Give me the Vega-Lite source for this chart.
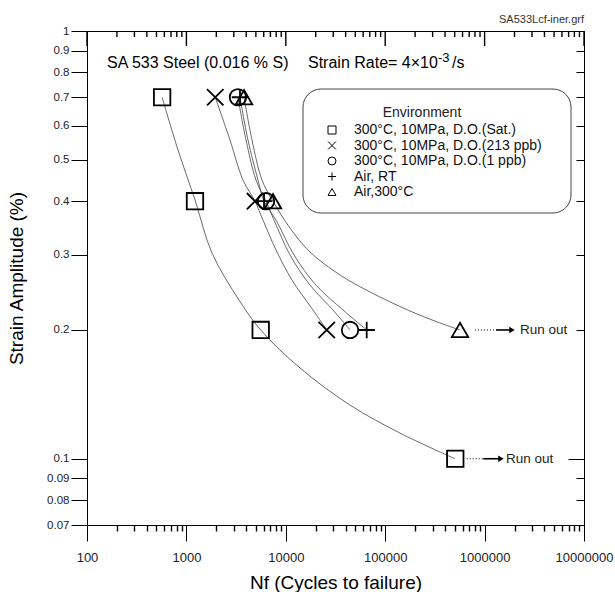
{
  "$schema": "https://vega.github.io/schema/vega-lite/v6.json",
  "width": 497,
  "height": 494,
  "autosize": "none",
  "padding": {"left": 87, "top": 31, "right": 31, "bottom": 67},
  "title": {"text": "SA533Lcf-iner.grf", "anchor": "end", "frame": "group", "fontSize": 11, "fontWeight": "normal", "color": "#333", "font": "Liberation Sans", "offset": 0},
  "config": {"view": {"stroke": null}, "font": "Liberation Sans", "axis": {"tickColor": "black", "domainColor": "black", "grid": false, "tickWidth": 1, "domainWidth": 1}},
  "datasets": {
    "points": [
      {"series": "300°C, 10MPa, D.O.(Sat.)", "N": 570, "strain": 0.7},
      {"series": "300°C, 10MPa, D.O.(Sat.)", "N": 1220, "strain": 0.4},
      {"series": "300°C, 10MPa, D.O.(Sat.)", "N": 5590, "strain": 0.2},
      {"series": "300°C, 10MPa, D.O.(Sat.)", "N": 507000, "strain": 0.1},
      {"series": "300°C, 10MPa, D.O.(213  ppb)", "N": 1950, "strain": 0.7},
      {"series": "300°C, 10MPa, D.O.(213  ppb)", "N": 4900, "strain": 0.4},
      {"series": "300°C, 10MPa, D.O.(213  ppb)", "N": 25800, "strain": 0.2},
      {"series": "300°C, 10MPa, D.O.(1 ppb)", "N": 3300, "strain": 0.7},
      {"series": "300°C, 10MPa, D.O.(1 ppb)", "N": 6320, "strain": 0.4},
      {"series": "300°C, 10MPa, D.O.(1 ppb)", "N": 44300, "strain": 0.2},
      {"series": "Air, RT", "N": 3460, "strain": 0.7},
      {"series": "Air, RT", "N": 6040, "strain": 0.4},
      {"series": "Air, RT", "N": 65150, "strain": 0.2},
      {"series": "Air,300°C", "N": 3800, "strain": 0.7},
      {"series": "Air,300°C", "N": 7430, "strain": 0.4},
      {"series": "Air,300°C", "N": 566000, "strain": 0.2}
    ],
    "curves": [
      {"series": "s1", "N": 570, "strain": 0.7},
      {"series": "s1", "N": 823, "strain": 0.527},
      {"series": "s1", "N": 1221, "strain": 0.4026},
      {"series": "s1", "N": 1809, "strain": 0.3027},
      {"series": "s1", "N": 3382, "strain": 0.235},
      {"series": "s1", "N": 5591, "strain": 0.2},
      {"series": "s1", "N": 13900, "strain": 0.163},
      {"series": "s1", "N": 44250, "strain": 0.1335},
      {"series": "s1", "N": 141000, "strain": 0.1148},
      {"series": "s1", "N": 504000, "strain": 0.1},
      {"series": "s2", "N": 1950, "strain": 0.7},
      {"series": "s2", "N": 2745, "strain": 0.556},
      {"series": "s2", "N": 3710, "strain": 0.4483},
      {"series": "s2", "N": 4900, "strain": 0.4},
      {"series": "s2", "N": 5897, "strain": 0.3614},
      {"series": "s2", "N": 7970, "strain": 0.3076},
      {"series": "s2", "N": 11540, "strain": 0.2617},
      {"series": "s2", "N": 18770, "strain": 0.2227},
      {"series": "s2", "N": 25800, "strain": 0.2},
      {"series": "s3", "N": 3300, "strain": 0.7},
      {"series": "s3", "N": 3979, "strain": 0.556},
      {"series": "s3", "N": 5015, "strain": 0.4483},
      {"series": "s3", "N": 6320, "strain": 0.4},
      {"series": "s3", "N": 7607, "strain": 0.3614},
      {"series": "s3", "N": 11020, "strain": 0.2995},
      {"series": "s3", "N": 17520, "strain": 0.2547},
      {"series": "s3", "N": 29840, "strain": 0.2227},
      {"series": "s3", "N": 44300, "strain": 0.2},
      {"series": "s4", "N": 3460, "strain": 0.7},
      {"series": "s4", "N": 4167, "strain": 0.556},
      {"series": "s4", "N": 5252, "strain": 0.4483},
      {"series": "s4", "N": 6040, "strain": 0.4},
      {"series": "s4", "N": 7970, "strain": 0.3614},
      {"series": "s4", "N": 12090, "strain": 0.2995},
      {"series": "s4", "N": 20120, "strain": 0.2547},
      {"series": "s4", "N": 37630, "strain": 0.2227},
      {"series": "s4", "N": 65150, "strain": 0.2},
      {"series": "s5", "N": 3800, "strain": 0.7},
      {"series": "s5", "N": 4571, "strain": 0.556},
      {"series": "s5", "N": 5763, "strain": 0.4483},
      {"series": "s5", "N": 7430, "strain": 0.4},
      {"series": "s5", "N": 11020, "strain": 0.3462},
      {"series": "s5", "N": 17520, "strain": 0.3043},
      {"series": "s5", "N": 35110, "strain": 0.2689},
      {"series": "s5", "N": 70330, "strain": 0.2454},
      {"series": "s5", "N": 177600, "strain": 0.2215},
      {"series": "s5", "N": 355900, "strain": 0.2077},
      {"series": "s5", "N": 566000, "strain": 0.2}
    ],
    "xmajor": [
      {"v": 100}, {"v": 1000}, {"v": 10000}, {"v": 100000}, {"v": 1000000}, {"v": 10000000}
    ],
    "xminor": [
      {"v": 200}, {"v": 300}, {"v": 400}, {"v": 500}, {"v": 600}, {"v": 700}, {"v": 800}, {"v": 900},
      {"v": 2000}, {"v": 3000}, {"v": 4000}, {"v": 5000}, {"v": 6000}, {"v": 7000}, {"v": 8000}, {"v": 9000},
      {"v": 20000}, {"v": 30000}, {"v": 40000}, {"v": 50000}, {"v": 60000}, {"v": 70000}, {"v": 80000}, {"v": 90000},
      {"v": 200000}, {"v": 300000}, {"v": 400000}, {"v": 500000}, {"v": 600000}, {"v": 700000}, {"v": 800000}, {"v": 900000},
      {"v": 2000000}, {"v": 3000000}, {"v": 4000000}, {"v": 5000000}, {"v": 6000000}, {"v": 7000000}, {"v": 8000000}, {"v": 9000000}
    ],
    "dotted": [
      {"N": 800000, "N2": 1302000, "strain": 0.2},
      {"N": 661000, "N2": 970000, "strain": 0.1}
    ],
    "arrows": [
      {"N": 1302000, "N2": 1887000, "strain": 0.2},
      {"N": 970000, "N2": 1462000, "strain": 0.1}
    ],
    "runtext": [
      {"N": 2270000, "strain": 0.2, "label": "Run out"},
      {"N": 1642000, "strain": 0.1, "label": "Run out"}
    ],
    "box": [
      {"x1": 14890, "x2": 7400000, "y1": 0.7317, "y2": 0.3754}
    ],
    "texts": [
      {"N": 159, "strain": 0.8415, "label": "SA 533 Steel (0.016 % S)"},
      {"N": 16720, "strain": 0.8415, "label": "Strain Rate= 4×10"},
      {"N": 469900, "strain": 0.8415, "label": "/s"}
    ],
    "sup": [
      {"N": 339800, "strain": 0.863, "label": "-3"}
    ],
    "env": [
      {"N": 234500, "strain": 0.643, "label": "Environment"}
    ]
  },
  "resolve": {"axis": {"x": "independent", "y": "independent"}},
  "layer": [
    {
      "data": {"name": "curves"},
      "mark": {"type": "line", "interpolate": "catmull-rom", "stroke": "#444", "strokeWidth": 0.8},
      "encoding": {
        "x": {"field": "N", "type": "quantitative", "scale": {"type": "log", "domain": [100, 10000000], "nice": false}, "axis": null},
        "y": {"field": "strain", "type": "quantitative", "scale": {"type": "log", "domain": [0.07, 1], "nice": false}, "axis": null},
        "detail": {"field": "series", "type": "nominal"}
      }
    },
    {
      "data": {"name": "xminor"},
      "mark": {"type": "tick", "orient": "vertical", "color": "black", "thickness": 1.4, "size": 6, "yOffset": 3, "opacity": 1},
      "encoding": {
        "x": {"field": "v", "type": "quantitative", "axis": null},
        "y": {"value": 0}
      }
    },
    {
      "data": {"name": "xmajor"},
      "mark": {"type": "tick", "orient": "vertical", "color": "black", "thickness": 1.4, "size": 15, "yOffset": 7.5, "opacity": 1},
      "encoding": {
        "x": {"field": "v", "type": "quantitative", "axis": null},
        "y": {"value": 0}
      }
    },
    {
      "data": {"name": "box"},
      "mark": {"type": "rect", "fill": null, "stroke": "#444", "strokeWidth": 1, "cornerRadius": 18},
      "encoding": {
        "x": {"field": "x1", "type": "quantitative", "axis": null},
        "x2": {"field": "x2"},
        "y": {"field": "y1", "type": "quantitative", "axis": null},
        "y2": {"field": "y2"}
      }
    },
    {
      "data": {"name": "dotted"},
      "mark": {"type": "rule", "stroke": "black", "strokeWidth": 1, "strokeDash": [1, 2]},
      "encoding": {
        "x": {"field": "N", "type": "quantitative", "axis": null},
        "x2": {"field": "N2"},
        "y": {"field": "strain", "type": "quantitative", "axis": null}
      }
    },
    {
      "data": {"name": "arrows"},
      "mark": {"type": "rule", "stroke": "black", "strokeWidth": 1.6},
      "encoding": {
        "x": {"field": "N", "type": "quantitative", "axis": null},
        "x2": {"field": "N2"},
        "y": {"field": "strain", "type": "quantitative", "axis": null}
      }
    },
    {
      "data": {"name": "arrows"},
      "mark": {"type": "point", "shape": "triangle-right", "filled": true, "fill": "black", "stroke": null, "size": 40, "opacity": 1},
      "encoding": {
        "x": {"field": "N2", "type": "quantitative", "axis": null},
        "y": {"field": "strain", "type": "quantitative", "axis": null}
      }
    },
    {
      "data": {"name": "runtext"},
      "mark": {"type": "text", "align": "left", "baseline": "middle", "fontSize": 13.5, "font": "Liberation Sans", "fill": "#222"},
      "encoding": {
        "x": {"field": "N", "type": "quantitative", "axis": null},
        "y": {"field": "strain", "type": "quantitative", "axis": null},
        "text": {"field": "label"}
      }
    },
    {
      "data": {"name": "texts"},
      "mark": {"type": "text", "align": "left", "baseline": "middle", "fontSize": 16, "font": "Liberation Sans", "fill": "black"},
      "encoding": {
        "x": {"field": "N", "type": "quantitative", "axis": null},
        "y": {"field": "strain", "type": "quantitative", "axis": null},
        "text": {"field": "label"}
      }
    },
    {
      "data": {"name": "sup"},
      "mark": {"type": "text", "align": "left", "baseline": "middle", "fontSize": 13, "font": "Liberation Sans", "fill": "black"},
      "encoding": {
        "x": {"field": "N", "type": "quantitative", "axis": null},
        "y": {"field": "strain", "type": "quantitative", "axis": null},
        "text": {"field": "label"}
      }
    },
    {
      "data": {"name": "env"},
      "mark": {"type": "text", "align": "center", "baseline": "middle", "fontSize": 14, "font": "Liberation Sans", "fill": "#222"},
      "encoding": {
        "x": {"field": "N", "type": "quantitative", "axis": null},
        "y": {"field": "strain", "type": "quantitative", "axis": null},
        "text": {"field": "label"}
      }
    },
    {
      "data": {"name": "points"},
      "mark": {"type": "point", "filled": false, "stroke": "black", "strokeWidth": 1.8, "size": 270, "opacity": 1},
      "encoding": {
        "x": {
          "field": "N", "type": "quantitative",
          "axis": {
            "orient": "bottom",
            "values": [100, 1000, 10000, 100000, 1000000, 10000000],
            "format": "d",
            "tickSize": 16,
            "labelPadding": 10,
            "labelFontSize": 13,
            "labelColor": "#222",
            "labelFont": "Liberation Sans",
            "labelOverlap": false,
            "labelFlush": false,
            "title": "Nf (Cycles to failure)",
            "titleFontSize": 19,
            "titleFont": "Liberation Sans",
            "titleFontWeight": "normal",
            "titleColor": "black",
            "titlePadding": 9
          }
        },
        "y": {
          "field": "strain", "type": "quantitative",
          "axis": {
            "orient": "left",
            "values": [0.07,0.08,0.09,0.1,0.2,0.3,0.4,0.5,0.6,0.7,0.8,0.9,1],
            "format": "~g",
            "tickSize": 16,
            "labelPadding": 2,
            "labelFontSize": 11.5,
            "labelColor": "#222",
            "labelFont": "Liberation Sans",
            "labelOverlap": false,
            "labelFlush": false,
            "title": "Strain Amplitude (%)",
            "titleFontSize": 19,
            "titleFont": "Liberation Sans",
            "titleFontWeight": "normal",
            "titleColor": "black",
            "titlePadding": 20
          }
        },
        "shape": {
          "field": "series", "type": "nominal",
          "scale": {
            "domain": ["300°C, 10MPa, D.O.(Sat.)", "300°C, 10MPa, D.O.(213  ppb)", "300°C, 10MPa, D.O.(1 ppb)", "Air, RT", "Air,300°C"],
            "range": ["square", "M-1,-1L1,1M-1,1L1,-1", "circle", "M-1,0L1,0M0,-1L0,1", "triangle-up"]
          },
          "legend": {
            "orient": "none",
            "legendX": 238,
            "legendY": 92,
            "title": null,
            "labelFontSize": 14,
            "labelFont": "Liberation Sans",
            "labelColor": "#111",
            "labelOffset": 15,
            "symbolSize": 64,
            "symbolStrokeWidth": 1,
            "symbolStrokeColor": "black",
            "rowPadding": 1.5,
            "padding": 0,
            "labelLimit": 400
          }
        }
      }
    },
    {
      "data": {"name": "points"},
      "mark": {"type": "point", "opacity": 0},
      "encoding": {
        "x": {
          "field": "N", "type": "quantitative",
          "axis": {
            "orient": "bottom",
            "values": [200,300,400,500,600,700,800,900,2000,3000,4000,5000,6000,7000,8000,9000,20000,30000,40000,50000,60000,70000,80000,90000,200000,300000,400000,500000,600000,700000,800000,900000,2000000,3000000,4000000,5000000,6000000,7000000,8000000,9000000],
            "tickSize": 6,
            "tickWidth": 1.4,
            "tickColor": "black",
            "labels": false,
            "domain": false,
            "title": null
          }
        },
        "y": {
          "field": "strain", "type": "quantitative",
          "axis": {
            "orient": "right",
            "values": [0.07,0.08,0.09,0.2,0.3,0.4,0.5,0.6,0.7,0.8,0.9],
            "tickSize": -8,
            "labels": false,
            "domain": true,
            "title": null
          }
        }
      }
    },
    {
      "data": {"name": "points"},
      "mark": {"type": "point", "opacity": 0},
      "encoding": {
        "x": {
          "field": "N", "type": "quantitative",
          "axis": {
            "orient": "top",
            "ticks": false,
            "labels": false,
            "domain": true,
            "title": null
          }
        },
        "y": {
          "field": "strain", "type": "quantitative",
          "axis": {
            "orient": "right",
            "values": [0.1, 1],
            "tickSize": -16,
            "labels": false,
            "domain": false,
            "title": null
          }
        }
      }
    }
  ]
}
